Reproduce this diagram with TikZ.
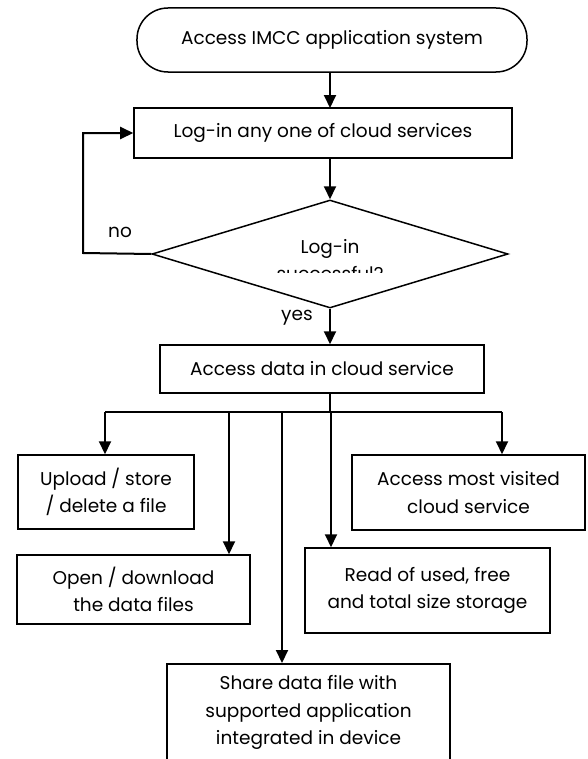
\documentclass[tikz,border=0pt]{standalone}
\usepackage{fontspec}
\setmainfont{Poppins}
\usetikzlibrary{shapes.geometric,arrows.meta}
\begin{document}
\begin{tikzpicture}[x=1bp,y=-1bp,
  every node/.style={font=\fontsize{18.5bp}{27.5bp}\selectfont},
  boxst/.style={draw,line width=1.5bp,inner sep=0pt,align=center},
  arr/.style={line width=2bp,-{Triangle[length=13bp,width=12bp]}},
  ln/.style={line width=1.6bp},
  lbl/.style={inner sep=0pt}]
\useasboundingbox (0,0) rectangle (588,759);
\node[boxst,rounded corners=31bp,minimum width=390bp,minimum height=64bp] (start) at (332,40) {Access IMCC application system};
\node[boxst,minimum width=378bp,minimum height=50bp] (login) at (323,133) {Log-in any one of cloud services};
\node[draw,line width=1.5bp,diamond,inner sep=0pt,minimum width=356bp,minimum height=108bp] (dec) at (330,254) {};
\begin{scope}
\clip (200,225) rectangle (460,272);
\node[align=center] at (330,260) {Log-in\\successful?};
\end{scope}
\node[boxst,minimum width=324bp,minimum height=48bp] (data) at (322,369) {Access data in cloud service};
\node[boxst,minimum width=176bp,minimum height=74bp] (up) at (106,492) {Upload / store\\/ delete a file};
\node[boxst,minimum width=233bp,minimum height=75bp] (most) at (468.5,492.5) {Access most visited\\cloud service};
\node[boxst,minimum width=233bp,minimum height=69bp] (open) at (133.5,589.5) {Open / download\\the data files};
\node[boxst,minimum width=245bp,minimum height=85bp] (read) at (427.5,590.5) {Read of used, free\\and total size storage};
\node[boxst,minimum width=283bp,minimum height=120bp,anchor=north] (share) at (308.5,663) {};
\node[align=center,anchor=north] at (share.north) [yshift=-9bp] {Share data file with\\supported application\\integrated in device};
\node[lbl] (no) at (120,232) {no};
\node[lbl] (yes) at (297,318) {yes};
\draw[arr] (start.south -| 330,0) -- (330,108);
\draw[arr] (330,158) -- (dec.north);
\draw[arr] (dec.south) -- (data.north -| dec.south);
\coordinate (lp) at (83,253);
\draw[arr] (dec.west) -- (lp) |- (login.west);
\coordinate (br) at (330,412);
\coordinate (b1) at (105,412);
\coordinate (b2) at (229,412);
\coordinate (b3) at (282,412);
\coordinate (b4) at (331,412);
\coordinate (b5) at (502,412);
\draw[ln] (data.south -| br) -- (br);
\draw[ln] (b1) -- (b5);
\draw[arr] (b1) -- (b1 |- up.north);
\draw[arr] (b2) -- (b2 |- open.north);
\draw[arr] (b3) -- (b3 |- share.north);
\draw[arr] (b4) -- (b4 |- read.north);
\draw[arr] (b5) -- (b5 |- most.north);
\end{tikzpicture}
\end{document}
